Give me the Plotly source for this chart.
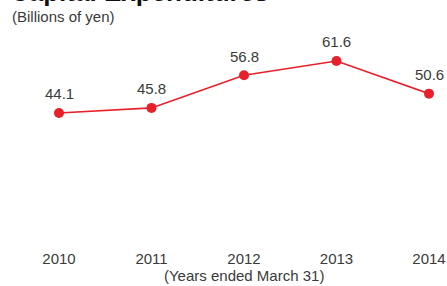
import plotly.graph_objects as go

years = [2010, 2011, 2012, 2013, 2014]
values = [44.1, 45.8, 56.8, 61.6, 50.6]
labels = ["44.1", "45.8", "56.8", "61.6", "50.6"]
tick_labels = ["2010", "2011", "2012", "2013", "2014"]

RED = "#e8202a"
TXT = "#3a3a3a"
FONT = "Liberation Sans, Arial, sans-serif"

fig = go.Figure()
fig.add_trace(go.Scatter(
    x=years, y=values, mode="lines+markers",
    line=dict(color=RED, width=1.6),
    marker=dict(color=RED, size=10),
    hoverinfo="skip", showlegend=False, cliponaxis=False,
))

for x, y, t in zip(years, values, labels):
    fig.add_annotation(x=x, y=y, text=t, showarrow=False, yshift=19,
                       font=dict(family=FONT, size=15, color=TXT))

fig.add_annotation(xref="paper", yref="paper", x=-0.132, y=1.096, xanchor="left",
                   yanchor="middle", text="(Billions of yen)", showarrow=False,
                   font=dict(family=FONT, size=15, color=TXT))
fig.add_annotation(xref="paper", yref="paper", x=-0.137, y=1.21, xanchor="left",
                   yanchor="middle", text="<b>Capital Expenditures</b>", showarrow=False,
                   font=dict(family=FONT, size=26, color="#111111"))
fig.add_annotation(xref="paper", yref="paper", x=0.5, y=-0.15, xanchor="center",
                   yanchor="middle", text="(Years ended March 31)", showarrow=False,
                   font=dict(family=FONT, size=15, color=TXT))

fig.update_layout(
    width=447, height=286,
    margin=dict(l=59, r=18, t=36, b=42, autoexpand=False),
    paper_bgcolor="white", plot_bgcolor="white",
    xaxis=dict(range=[2010, 2014], tickvals=years, ticktext=tick_labels,
               automargin=False,
               showgrid=False, zeroline=False, showline=False,
               ticks="outside", ticklen=1, tickcolor="rgba(0,0,0,0)",
               tickfont=dict(family=FONT, size=15, color=TXT)),
    yaxis=dict(range=[0, 70], visible=False, automargin=False),
)

fig.write_html("out.html", config={"responsive": False, "displayModeBar": False},
               post_script="document.body.style.margin='0';document.body.style.overflow='hidden';")
